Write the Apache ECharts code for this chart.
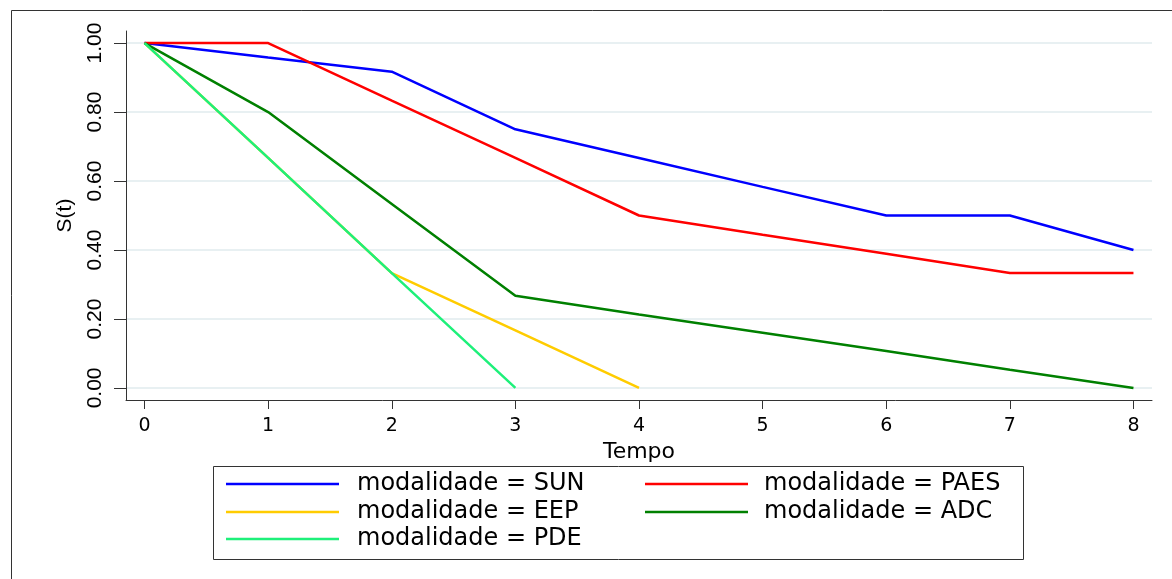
<!DOCTYPE html>
<html>
<head>
<meta charset="utf-8">
<script src="https://cdn.jsdelivr.net/npm/echarts@6/dist/echarts.min.js"></script>
<style>
html, body { margin: 0; padding: 0; background: #fff; }
#main { width: 1172px; height: 579px; }
</style>
</head>
<body>
<div id="main"></div>
<script>
// tempos (eixo x) e sobrevivência S(t) por modalidade
var tempos = [0, 1, 2, 3, 4, 5, 6, 7, 8];
var sun  = [1, 0.958, 0.917, 0.75, 0.667, 0.583, 0.5, 0.5, 0.4];
var paes = [1, 1, 0.833, 0.667, 0.5, 0.444, 0.389, 0.333, 0.333];
var eep  = [1, 0.667, 0.333, 0.167, 0, null, null, null, null];
var adc  = [1, 0.8, 0.533, 0.267, 0.213, 0.16, 0.107, 0.053, 0];
var pde  = [1, 0.667, 0.333, 0, null, null, null, null, null];
var yTicks = [0, 0.2, 0.4, 0.6, 0.8, 1];
var yLabels = ['0.00', '0.20', '0.40', '0.60', '0.80', '1.00'];
var nomes = ['modalidade = SUN', 'modalidade = PAES', 'modalidade = EEP', 'modalidade = ADC', 'modalidade = PDE'];

var myChart = echarts.init(document.getElementById('main'));

function pares(vals) {
    var out = [];
    for (var i = 0; i < tempos.length; i++) {
        if (vals[i] !== null) out.push([tempos[i], vals[i]]);
    }
    return out;
}

function serie(nome, vals, cor) {
    return {
        name: nome,
        type: 'line',
        data: pares(vals),
        showSymbol: false,
        symbol: 'none',
        animation: false,
        lineStyle: { color: cor, width: 2.5 },
        itemStyle: { color: cor }
    };
}

// uma legenda por item, para posicionar como no Stata
function legenda(nome, left, top, largura, gap) {
    return {
        data: [nome],
        left: left,
        top: top,
        padding: 0,
        icon: 'rect',
        itemWidth: largura,
        itemHeight: 2.5,
        selectedMode: false,
        textStyle: {
            fontFamily: 'DejaVu Sans',
            fontSize: 24,
            color: '#000',
            padding: [0, 0, 0, gap]
        }
    };
}

var option = {
    backgroundColor: '#fff',
    animation: false,
    grid: { left: 126, top: 31, right: 20, bottom: 179, containLabel: false },
    graphic: [
        {
            type: 'rect', silent: true,
            shape: { x: 11.5, y: 10.5, width: 1300, height: 700 },
            style: { fill: 'none', stroke: '#333', lineWidth: 1 }
        },
        {
            type: 'rect', silent: true,
            shape: { x: 213.5, y: 466.5, width: 810, height: 93 },
            style: { fill: 'none', stroke: '#333', lineWidth: 1 }
        }
    ],
    legend: [
        legenda(nomes[0], 226, 472, 113, 13),
        legenda(nomes[1], 645, 472, 103, 11),
        legenda(nomes[2], 226, 500, 113, 13),
        legenda(nomes[3], 645, 500, 103, 11),
        legenda(nomes[4], 226, 527, 113, 13)
    ],
    xAxis: {
        type: 'value',
        min: -0.15,
        max: 8.15,
        name: 'Tempo',
        nameLocation: 'middle',
        nameGap: 19,
        nameTextStyle: { fontFamily: 'DejaVu Sans', fontSize: 22, color: '#000' },
        axisLine: { show: true, onZero: false, lineStyle: { color: '#333', width: 1 } },
        axisTick: { show: true, length: 9, customValues: tempos, lineStyle: { color: '#333' } },
        axisLabel: {
            customValues: tempos,
            margin: 17,
            fontFamily: 'DejaVu Sans',
            fontSize: 19,
            color: '#000'
        },
        splitLine: { show: false }
    },
    yAxis: {
        type: 'value',
        min: -0.035,
        max: 1.035,
        name: 'S(t)',
        nameLocation: 'middle',
        nameGap: 50,
        nameRotate: 90,
        nameTextStyle: { fontFamily: 'Liberation Sans', fontSize: 21, color: '#000' },
        axisLine: { show: true, onZero: false, lineStyle: { color: '#333', width: 1 } },
        axisTick: { show: true, length: 12, customValues: yTicks, lineStyle: { color: '#333' } },
        axisLabel: {
            customValues: yTicks,
            rotate: 90,
            margin: 20,
            fontFamily: 'Liberation Sans',
            fontSize: 21,
            color: '#000',
            formatter: function (v) {
                var i = yTicks.indexOf(Math.round(v * 10) / 10);
                return i >= 0 ? yLabels[i] : '';
            }
        },
        splitLine: { show: true, lineStyle: { color: '#e8f0f2', width: 2 } }
    },
    series: [
        serie(nomes[0], sun, '#0000ff'),
        serie(nomes[1], paes, '#ff0000'),
        serie(nomes[2], eep, '#ffcc00'),
        serie(nomes[3], adc, '#008000'),
        serie(nomes[4], pde, '#1ef07a')
    ]
};

myChart.setOption(option);
window.addEventListener('resize', function () {
    myChart.resize();
});
</script>
</body>
</html>
